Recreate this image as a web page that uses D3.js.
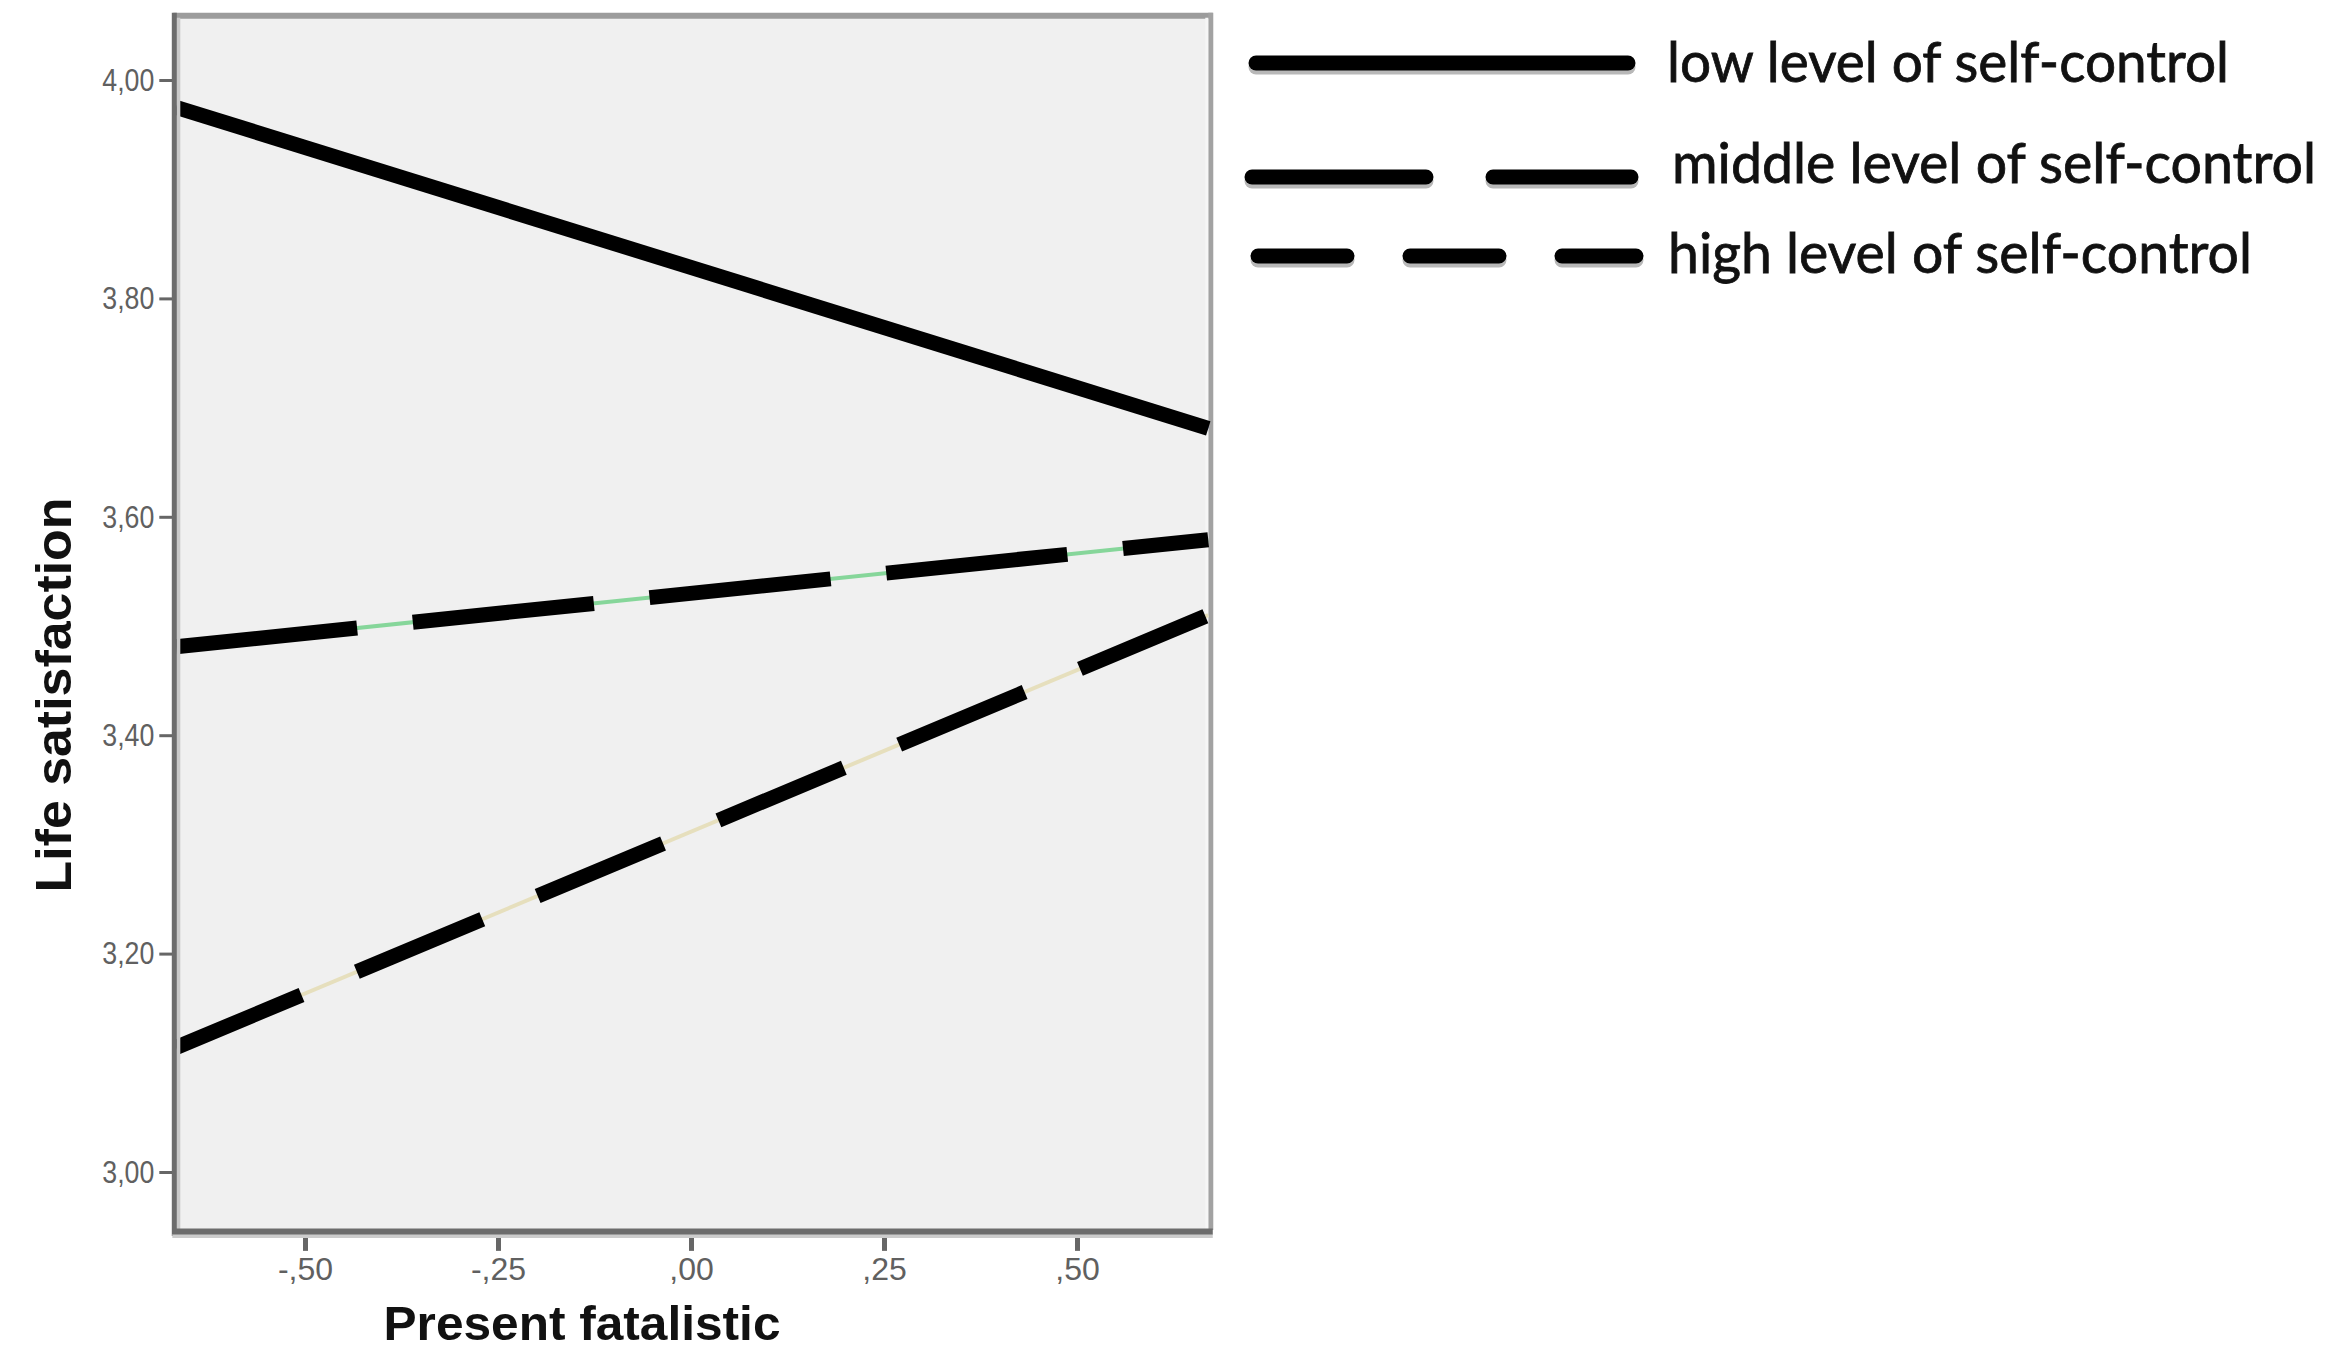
<!DOCTYPE html>
<html>
<head>
<meta charset="utf-8">
<script src="https://cdnjs.cloudflare.com/ajax/libs/d3/7.8.5/d3.min.js"></script>
<style>
  html, body { margin: 0; padding: 0; background: #ffffff; }
  svg { display: block; }
</style>
</head>
<body>
<svg id="chart" width="2346" height="1349"></svg>
<script>
// ---------------- DATA ----------------
const seriesNames = ["low level of self-control", "middle level of self-control", "high level of self-control"];
const xValues = [-0.667, 0.670];            // Present fatalistic (range of observed values)
const lowValues = [3.975, 3.681];
const middleValues = [3.481, 3.579];
const highValues = [3.114, 3.510];
const xTickValues = [-0.5, -0.25, 0, 0.25, 0.5];
const xTickLabels = ["-,50", "-,25", ",00", ",25", ",50"];
const yTickValues = [3.0, 3.2, 3.4, 3.6, 3.8, 4.0];
const yTickLabels = ["3,00", "3,20", "3,40", "3,60", "3,80", "4,00"];
const xTitle = "Present fatalistic";
const yTitle = "Life satisfaction";
const xExtent = [-0.668, 0.672];
const yExtent = [2.947, 4.057];

// ---------------- STYLES ----------------
const lineStyles = [
  { dash: null,      under: "#4a63a8" },
  { dash: "182,56",  under: "#86d69a" },
  { dash: "136,60",  under: "#e6dfbd" }
];
const legendStyles = [
  { dash: null,    x0: 1256, x1: 1628, y: 63,  tx: 1667, ty: 82,  tw: 562 },
  { dash: "174,67", x0: 1252, x1: 1631, y: 177, tx: 1672, ty: 183, tw: 644 },
  { dash: "89,63",  x0: 1258, x1: 1636, y: 256, tx: 1668, ty: 273, tw: 584 }
];

const svg = d3.select("#chart");

// scales: ,00 at x=691, 0.25 per 193px ; 3.00 at y=1172, 4.00 at y=80
const x = d3.scaleLinear().domain([-0.5, 0.5]).range([305, 1077]);
const y = d3.scaleLinear().domain([3, 4]).range([1172, 80]);

const L = x(xExtent[0]), R = x(xExtent[1]);
const T = y(yExtent[1]), B = y(yExtent[0]);

// plot background
svg.append("rect").attr("x", L).attr("y", T).attr("width", R - L).attr("height", B - T)
  .attr("fill", "#f0f0f0");

// frame: top and right (light gray)
svg.append("line").attr("x1", L - 2).attr("x2", R + 3).attr("y1", T - 2).attr("y2", T - 2)
  .attr("stroke", "#9c9c9c").attr("stroke-width", 6);
svg.append("line").attr("x1", R + 1).attr("x2", R + 1).attr("y1", T - 5).attr("y2", B)
  .attr("stroke", "#a2a2a2").attr("stroke-width", 5);
svg.append("line").attr("x1", R - 3).attr("x2", R - 3).attr("y1", T).attr("y2", B)
  .attr("stroke", "#f6f6f6").attr("stroke-width", 3);

// lines
const lineGen = d3.line().x(d => x(d[0])).y(d => y(d[1]));
const allSeries = [lowValues, middleValues, highValues];
const gLines = svg.append("g");
allSeries.forEach((vals, i) => {
  const pts = xValues.map((xv, j) => [xv, vals[j]]);
  gLines.append("path").attr("d", lineGen(pts)).attr("fill", "none")
    .attr("stroke", lineStyles[i].under).attr("stroke-width", 4);
  const p = gLines.append("path").attr("d", lineGen(pts)).attr("fill", "none")
    .attr("stroke", "#000").attr("stroke-width", 15).attr("stroke-linecap", "butt");
  if (lineStyles[i].dash) p.attr("stroke-dasharray", lineStyles[i].dash);
});

// left axis
const yAxis = d3.axisLeft(y).tickValues(yTickValues)
  .tickFormat((d, i) => yTickLabels[i]).tickSize(15).tickSizeOuter(0).tickPadding(5);
const gy = svg.append("g").attr("transform", `translate(${L - 1},0)`).call(yAxis);
gy.select(".domain").remove();
gy.selectAll(".tick line").attr("stroke", "#666").attr("stroke-width", 3);
gy.selectAll(".tick text").attr("fill", "#606060")
  .style("font-family", "'Liberation Sans Narrow', 'Liberation Sans', Arial, sans-serif")
  .style("font-size", "32px").attr("textLength", 52).attr("lengthAdjust", "spacingAndGlyphs");

// bottom axis
const xAxis = d3.axisBottom(x).tickValues(xTickValues)
  .tickFormat((d, i) => xTickLabels[i]).tickSize(18).tickSizeOuter(0).tickPadding(6);
const gx = svg.append("g").attr("transform", `translate(0,${B + 3})`).call(xAxis);
gx.select(".domain").remove();
gx.selectAll(".tick line").attr("stroke", "#666").attr("stroke-width", 5);
gx.selectAll(".tick text").attr("fill", "#606060")
  .style("font-family", "'Liberation Sans Narrow', 'Liberation Sans', Arial, sans-serif")
  .style("font-size", "32px");

// axis lines with shadow
svg.append("line").attr("x1", L + 3).attr("x2", L + 3).attr("y1", T).attr("y2", B)
  .attr("stroke", "#c9c9c9").attr("stroke-width", 4);
svg.append("line").attr("x1", L - 1).attr("x2", L - 1).attr("y1", T - 5).attr("y2", B + 6)
  .attr("stroke", "#6c6c6c").attr("stroke-width", 5);
svg.append("line").attr("x1", L - 3).attr("x2", R + 3).attr("y1", B + 6).attr("y2", B + 6)
  .attr("stroke", "#cccccc").attr("stroke-width", 4);
svg.append("line").attr("x1", L - 3).attr("x2", R + 3).attr("y1", B + 1.5).attr("y2", B + 1.5)
  .attr("stroke", "#6c6c6c").attr("stroke-width", 6);

// axis titles
svg.append("text").text(xTitle)
  .attr("x", 582).attr("y", 1340).attr("text-anchor", "middle")
  .attr("textLength", 397).attr("lengthAdjust", "spacingAndGlyphs")
  .style("font-family", "'Liberation Sans', Arial, sans-serif")
  .style("font-weight", "bold").style("font-size", "48px").attr("fill", "#111");
svg.append("text").text(yTitle)
  .attr("transform", "translate(71,695) rotate(-90)").attr("text-anchor", "middle")
  .attr("textLength", 395).attr("lengthAdjust", "spacingAndGlyphs")
  .style("font-family", "'Liberation Sans', Arial, sans-serif")
  .style("font-weight", "bold").style("font-size", "50px").attr("fill", "#111");

// legend
const gLeg = svg.append("g");
seriesNames.forEach((name, i) => {
  const s = legendStyles[i];
  const sh = gLeg.append("line").attr("x1", s.x0).attr("x2", s.x1).attr("y1", s.y + 4).attr("y2", s.y + 4)
    .attr("stroke", "#b8b8b8").attr("stroke-width", 15).attr("stroke-linecap", "round");
  const ln = gLeg.append("line").attr("x1", s.x0).attr("x2", s.x1).attr("y1", s.y).attr("y2", s.y)
    .attr("stroke", "#000").attr("stroke-width", 15).attr("stroke-linecap", "round");
  if (s.dash) { sh.attr("stroke-dasharray", s.dash); ln.attr("stroke-dasharray", s.dash); }
  gLeg.append("text").text(name).attr("x", s.tx).attr("y", s.ty)
    .attr("textLength", s.tw).attr("lengthAdjust", "spacingAndGlyphs")
    .style("font-family", "Lato, 'Open Sans', sans-serif").style("font-size", "56px")
    .attr("fill", "#111").attr("stroke", "#111").attr("stroke-width", 0.8);
});
</script>
</body>
</html>
